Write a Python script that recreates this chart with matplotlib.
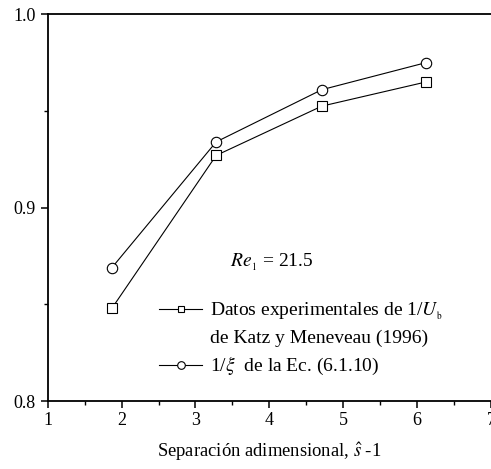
import numpy as np
import matplotlib
matplotlib.use("Agg")
import matplotlib.pyplot as plt
from matplotlib.lines import Line2D
from matplotlib.ticker import MultipleLocator

plt.rcParams['font.family'] = ['Liberation Serif', 'DejaVu Serif']
plt.rcParams['mathtext.fontset'] = 'stix'

# data
sep = [1.87, 3.28, 4.71, 6.12]
inv_ub = [0.848, 0.927, 0.9525, 0.965]   # squares, Katz y Meneveau
inv_xi = [0.869, 0.934, 0.961, 0.975]    # circles, Ec. (6.1.10)

fig = plt.figure(figsize=(4.91, 4.69), dpi=100)
ax = fig.add_axes([47.7 / 491, 1 - 401 / 469, 1 - 47.7 / 491, (401 - 14.3) / 469])

ax.plot(sep, inv_ub, color='black', lw=0.8, marker='s', ms=6.5,
        mfc='white', mec='black', mew=0.8)
ax.plot(sep, inv_xi, color='black', lw=0.8, marker='o', ms=7.5,
        mfc='white', mec='black', mew=0.8)

ax.set_xlim(1, 7)
ax.set_ylim(0.8, 1.0)
ax.xaxis.set_major_locator(MultipleLocator(1))
ax.xaxis.set_minor_locator(MultipleLocator(0.5))
ax.yaxis.set_major_locator(MultipleLocator(0.1))
ax.yaxis.set_minor_locator(MultipleLocator(0.05))
ax.yaxis.set_major_formatter(plt.FormatStrFormatter('%.1f'))

for s in ['left', 'bottom', 'top']:
    ax.spines[s].set_linewidth(1.3)
ax.spines['right'].set_visible(False)

ax.tick_params(which='major', direction='out', length=5, width=1.1, labelsize=13)
ax.tick_params(which='minor', direction='out', length=3, width=1.0)
ax.tick_params(axis='x', pad=3)

ax.set_xlabel(r'Separación adimensional, $\hat{s}$ -1', fontsize=13.4, labelpad=8)

ax.text(0.411, 0.36, r'$Re_{_1}$ = 21.5', transform=ax.transAxes,
        fontsize=14, va='center', ha='left')

handles = [
    Line2D([], [], color='black', lw=0.8, marker='s', ms=5, mfc='white', mec='black', mew=0.8),
    Line2D([], [], color='none'),
    Line2D([], [], color='black', lw=0.8, marker='o', ms=5.5, mfc='white', mec='black', mew=0.8),
]
labels = [
    r'Datos experimentales de 1/$U_{_\mathrm{b}}$',
    'de Katz y Meneveau (1996)',
    r'1/$\xi$  de la Ec. (6.1.10)',
]
ax.legend(handles, labels, loc='upper left', bbox_to_anchor=(0.252, 0.26),
          frameon=False, fontsize=14, handlelength=2.2, handletextpad=0.4,
          borderpad=0, borderaxespad=0, labelspacing=0.4)

fig.savefig('out.png', dpi=100)
